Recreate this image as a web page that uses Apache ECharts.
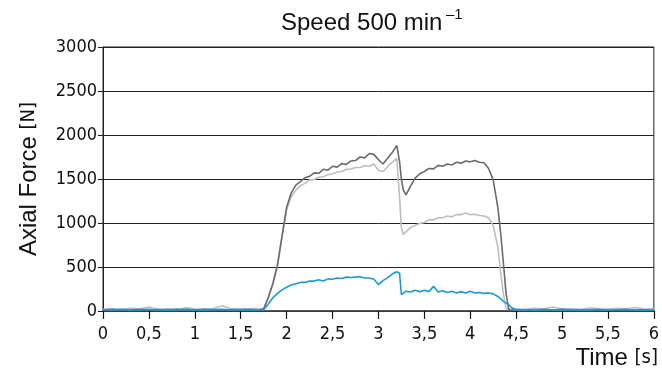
<!DOCTYPE html>
<html>
<head>
<meta charset="utf-8">
<script src="https://cdn.jsdelivr.net/npm/echarts@6/dist/echarts.min.js"></script>
<style>html,body{margin:0;padding:0;background:#fff}#c{width:662px;height:379px}</style>
</head>
<body>
<div id="c"></div>
<script>
const times = [0,0.1,0.2,0.3,0.4,0.5,0.6,0.7,0.8,0.9,1.0,1.1,1.2,1.3,1.4,1.5,1.6,1.65,
1.7,1.75,1.8,1.85,1.9,1.95,2.0,2.05,2.1,2.15,2.2,2.25,2.3,2.35,2.4,2.45,2.5,2.55,2.6,2.65,2.7,2.75,2.8,2.85,2.9,2.95,3.0,3.05,3.1,3.15,3.2,3.23,3.25,3.27,3.3,3.35,3.4,3.45,3.5,3.55,3.6,3.65,3.7,3.75,3.8,3.85,3.9,3.95,4.0,4.05,4.1,4.15,4.2,4.25,4.3,4.33,4.36,4.39,4.42,4.45,4.5,
4.6,4.7,4.8,4.9,5.0,5.1,5.2,5.3,5.4,5.5,5.6,5.7,5.8,5.9,6.0];

const darkForce = [12,18,10,15,20,12,16,10,18,14,12,20,15,11,17,13,19,14,
15,25,150,310,520,850,1180,1340,1430,1470,1515,1530,1570,1565,1610,1600,1645,1635,1675,1665,1705,1710,1750,1740,1790,1780,1720,1670,1735,1800,1880,1700,1500,1380,1320,1420,1510,1560,1585,1620,1615,1655,1645,1670,1660,1690,1680,1705,1695,1710,1690,1685,1620,1490,1180,900,560,200,15,10,12,
14,10,16,12,18,11,15,13,17,10,14,16,12,15,13];

const lightForce = [20,25,18,30,22,45,20,26,19,35,24,21,28,60,23,27,22,30,
20,28,150,310,520,840,1150,1300,1370,1425,1450,1490,1495,1520,1525,1550,1560,1580,1585,1610,1610,1630,1630,1650,1645,1670,1600,1585,1640,1690,1735,1300,950,870,900,950,975,995,1005,1035,1035,1060,1060,1080,1070,1095,1095,1115,1095,1100,1085,1080,1060,970,730,450,200,30,18,22,25,
20,30,24,45,22,28,20,35,25,22,30,26,40,21,25];

const blueForce = [15,12,18,10,14,20,8,16,12,18,14,10,16,20,12,15,13,14,
12,15,80,150,200,240,270,295,310,325,325,340,340,355,340,365,360,375,370,385,380,385,390,375,375,360,300,345,380,420,445,430,185,200,225,215,235,220,235,220,280,215,230,210,225,205,220,205,225,205,210,200,205,195,165,140,110,90,70,40,12,
14,10,18,12,16,11,15,13,17,12,14,16,12,15,13];

const xMin = 0, xMax = 6, xStep = 0.5;
const yMin = 0, yMax = 3000, yStep = 500;

function pairs(arr){ return times.map((t,i)=>[t, arr[i]]); }

const chart = echarts.init(document.getElementById('c'));
const narrow = "'Liberation Sans Narrow', 'DejaVu Sans Condensed', Roboto, sans-serif";
const sans = "'Liberation Sans', Arial, sans-serif";
chart.setOption({
  animation: false,
  backgroundColor: '#fff',
  title: {
    text: 'Speed 500 min',
    left: 276, top: 6,
    textStyle: {fontFamily: sans, fontSize: 24, fontWeight: 'normal', color: '#111'}
  },
  graphic: [
    {type: 'text', left: 446, top: 7, style: {text: '\u20131', font: '15px "Liberation Sans"', fill: '#111'}},
    {type: 'text', right: 4, top: 346, style: {
      text: '{a|Time }{b|[s]}',
      rich: {
        a: {fontFamily: sans, fontSize: 24, fill: '#111', color: '#111'},
        b: {fontFamily: narrow, fontSize: 20, fill: '#111', color: '#111'}
      }
    }}
  ],
  grid: {left: 103, right: 8, top: 47, bottom: 68, show: true, borderColor: '#222', borderWidth: 1},
  xAxis: {
    type: 'value', min: xMin, max: xMax, interval: xStep,
    axisLine: {show: true, onZero: false, lineStyle: {color: '#444', width: 1.5}},
    axisTick: {show: true, inside: false, length: 8, lineStyle: {color: '#111', width: 1.2}},
    axisLabel: {margin: 14, fontFamily: narrow, fontSize: 18, color: '#111',
      formatter: v => String(v).replace('.', ',')},
    splitLine: {show: false}
  },
  yAxis: {
    type: 'value', min: yMin, max: yMax, interval: yStep,
    name: '{a|Axial Force }{b|[N]}',
    nameLocation: 'middle', nameGap: 62, nameRotate: 90,
    nameTextStyle: {
      rich: {
        a: {fontFamily: sans, fontSize: 24, color: '#111'},
        b: {fontFamily: narrow, fontSize: 20, color: '#111'}
      }
    },
    axisLine: {show: true, lineStyle: {color: '#222', width: 1}},
    axisTick: {show: true, length: 5, lineStyle: {color: '#222'}},
    axisLabel: {margin: 6, fontFamily: narrow, fontSize: 18, color: '#111',
      formatter: v => String(v)},
    splitLine: {show: true, lineStyle: {color: '#222', width: 1}}
  },
  series: [
    {type: 'line', data: pairs(lightForce), showSymbol: false, lineStyle: {color: '#bcbec0', width: 1.6}, z: 2},
    {type: 'line', data: pairs(darkForce), showSymbol: false, lineStyle: {color: '#6a6b6e', width: 1.6}, z: 3},
    {type: 'line', data: pairs(blueForce), showSymbol: false, lineStyle: {color: '#1b9ad7', width: 1.6}, z: 4}
  ]
});
</script>
</body>
</html>
